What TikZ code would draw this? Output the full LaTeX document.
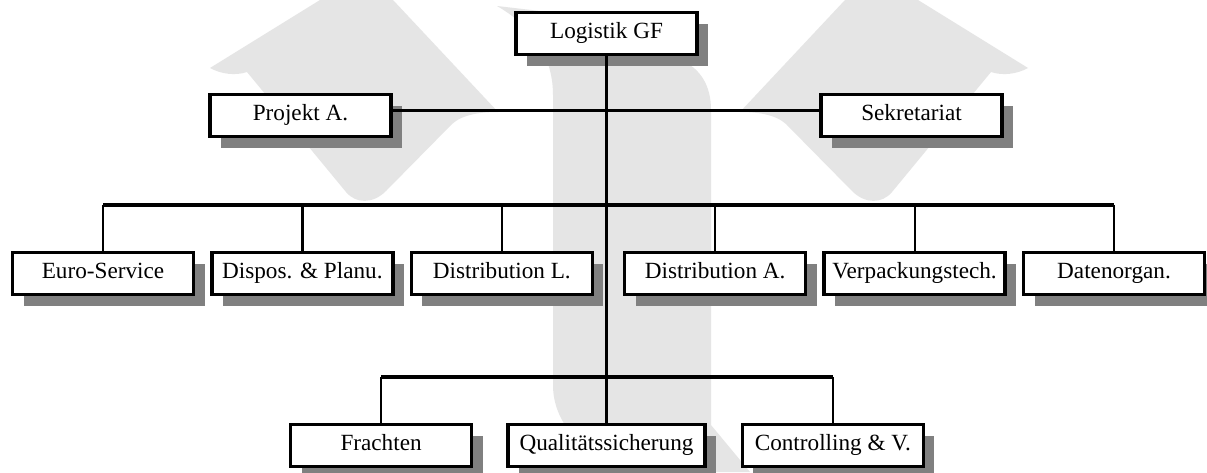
\documentclass[tikz,border=0pt]{standalone}
\usepackage{fontspec}
\setmainfont{Liberation Serif}
\usepackage{tikz}
\usetikzlibrary{shadows, positioning}

% one arm of the logo in the background
\newcommand\logoarm{%
  \fill[logo] (320,0) -- (393,0) -- (498,112) .. controls (482,112) and (463,114) .. (452,124)
    -- (386,191) .. controls (373,204) and (356,204) .. (346,192)
    -- (247,72) .. controls (235,76) and (221,74) .. (210,68) -- cycle;}

\begin{document}
\begin{tikzpicture}[x=1pt, y=-1pt,
    logo/.style={fill=black!10},
    unit/.style={draw, line width=3.4pt, fill=white, minimum width=181pt, minimum height=42pt,
        inner sep=0pt, text height=15.5pt, text depth=5pt, font=\fontsize{23.2}{28}\selectfont,
        drop shadow={shadow xshift=11pt, shadow yshift=-11pt, fill=black!50, opacity=1}},
    bus/.style={line width=3.2pt},
    link/.style={line width=2.2pt}]
    \useasboundingbox (0,0) rectangle (1207,472);
    \clip (0,0) rectangle (1207,472);
    \fill[white] (0,0) rectangle (1207,472);

    % background logo
    \logoarm
    \begin{scope}[shift={(1238,0)}, xscale=-1]
        \logoarm
    \end{scope}
    \fill[logo] (497,6) .. controls (525,22) and (553,50) .. (553,95) -- (553,385)
        .. controls (553,420) and (578,450) .. (622,472) -- (750,472) -- (711,425) -- (711,110)
        .. controls (711,85) and (700,70) .. (685,62) -- (600,18) -- cycle;

    % management
    \node[unit] (gf) at (606.5,33.5) {Logistik GF};
    \node[unit] (projekt) at (300.5,115.5) {Projekt A.};
    \node[unit] (sekr) at (911.5,115.5) {Sekretariat};

    % departments
    \node[unit] (euro) at (103,273.5) {Euro-Service};
    \node[unit, right=15pt of euro] (dispos) {Dispos. \& Planu.};
    \node[unit, right=15pt of dispos] (distl) {Distribution L.};
    \node[unit, right=29pt of distl] (dista) {Distribution A.};
    \node[unit, right=15pt of dista] (verp) {Verpackungstech.};
    \node[unit, right=15pt of verp] (daten) {Datenorgan.};

    % lower row
    \node[unit, minimum width=197pt] (qual) at (606.5,445.5) {Qualitätssicherung};
    \node[unit, left=33pt of qual] (frachten) {Frachten};
    \node[unit, right=34pt of qual] (contr) {Controlling \& V.};

    \coordinate (midbus) at (606.5,205);
    \coordinate (lowbus) at (606.5,377);

    \draw[link, line width=2.6pt] (gf.south) -- (qual.north);
    \draw[bus] ([yshift=5pt]projekt.east) -- ([yshift=5pt]sekr.west);
    \draw[bus] (euro |- midbus) -- (daten |- midbus);
    \foreach \n in {euro, dispos, distl, dista, verp, daten}
        \draw[link] (\n |- midbus) -- (\n.north);
    \draw[bus] (frachten |- lowbus) -- (contr |- lowbus);
    \foreach \n in {frachten, contr}
        \draw[link] (\n |- lowbus) -- (\n.north);
\end{tikzpicture}
\end{document}
